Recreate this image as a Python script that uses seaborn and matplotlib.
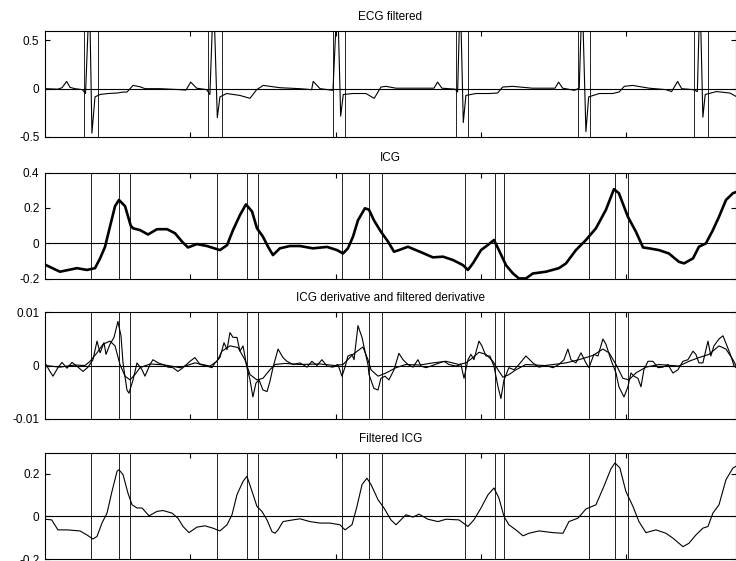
import matplotlib
matplotlib.use("Agg")
import matplotlib.pyplot as plt
import seaborn as sns

# ---------------------------------------------------------------- data
# time axis in seconds
t_max = 4.756
x_ticks = [1, 2, 3, 4]

# filtered ECG
ecg_t = [0.000, 0.089, 0.117, 0.149, 0.172, 0.206, 0.257, 0.279, 0.306, 0.323,
         0.344, 0.379, 0.434, 0.496, 0.537, 0.564, 0.606, 0.654, 0.688, 0.791,
         0.929, 0.970, 1.003, 1.044, 1.113, 1.135, 1.160, 1.186, 1.204, 1.250,
         1.342, 1.411, 1.457, 1.502, 1.617, 1.755, 1.835, 1.846, 1.893, 1.982,
         2.013, 2.035, 2.053, 2.120, 2.209, 2.266, 2.312, 2.347, 2.416, 2.622,
         2.677, 2.702, 2.732, 2.823, 2.840, 2.858, 2.879, 2.897, 2.966, 3.056,
         3.115, 3.150, 3.219, 3.356, 3.510, 3.535, 3.563, 3.643, 3.677, 3.697,
         3.723, 3.742, 3.815, 3.907, 3.952, 3.987, 4.044, 4.159, 4.274, 4.313,
         4.354, 4.382, 4.462, 4.490, 4.508, 4.528, 4.544, 4.622, 4.714, 4.756]
ecg_v = [0.000, -0.005, 0.010, 0.075, 0.014, 0.000, -0.010, -0.050, 1.000, -0.460,
         -0.085, -0.060, -0.050, -0.045, -0.035, -0.035, 0.034, 0.020, 0.000, 0.000,
         -0.010, -0.015, 0.068, 0.005, -0.010, -0.060, 1.000, -0.300, -0.085, -0.050,
         -0.070, -0.100, -0.010, 0.034, 0.010, 0.000, -0.010, 0.075, 0.000, -0.017,
         1.000, -0.284, -0.060, -0.050, -0.050, -0.100, 0.017, 0.024, 0.005, 0.005,
         0.005, 0.068, 0.005, -0.005, -0.034, 1.000, -0.350, -0.070, -0.050, -0.050,
         -0.045, 0.017, 0.024, 0.005, 0.005, 0.068, 0.005, -0.017, 0.005, 1.000,
         -0.445, -0.085, -0.050, -0.050, -0.034, 0.024, 0.034, 0.005, -0.010, -0.030,
         0.075, 0.000, -0.010, -0.030, 1.000, -0.295, -0.060, -0.030, -0.045, -0.080]
# QRS onset / offset markers
qrs_on = [0.265, 1.124, 1.984, 2.826, 3.668, 4.470]
qrs_off = [0.363, 1.215, 2.068, 2.913, 3.753, 4.565]

# raw ICG
icg_t = [0.000, 0.103, 0.220, 0.289, 0.344, 0.379, 0.413, 0.447, 0.482, 0.509,
         0.551, 0.590, 0.606, 0.654, 0.709, 0.771, 0.840, 0.895, 0.943, 0.984,
         1.046, 1.115, 1.204, 1.253, 1.294, 1.342, 1.383, 1.425, 1.459, 1.500,
         1.535, 1.569, 1.617, 1.686, 1.755, 1.844, 1.941, 2.010, 2.051, 2.085,
         2.120, 2.154, 2.202, 2.230, 2.264, 2.312, 2.361, 2.402, 2.436, 2.498,
         2.553, 2.608, 2.670, 2.739, 2.808, 2.877, 2.911, 2.945, 3.001, 3.056,
         3.090, 3.124, 3.173, 3.221, 3.262, 3.310, 3.358, 3.448, 3.537, 3.586,
         3.654, 3.723, 3.792, 3.861, 3.916, 3.950, 4.012, 4.067, 4.116, 4.157,
         4.226, 4.294, 4.363, 4.398, 4.460, 4.501, 4.549, 4.597, 4.639, 4.687,
         4.735, 4.756]
icg_v = [-0.120, -0.160, -0.140, -0.150, -0.140, -0.085, -0.020, 0.094, 0.210, 0.245,
         0.210, 0.100, 0.085, 0.075, 0.050, 0.080, 0.080, 0.057, 0.010, -0.023,
         -0.004, -0.015, -0.038, -0.010, 0.075, 0.160, 0.220, 0.180, 0.085, 0.038,
         -0.019, -0.066, -0.028, -0.015, -0.015, -0.028, -0.020, -0.038, -0.057, -0.028,
         0.038, 0.130, 0.198, 0.190, 0.130, 0.066, 0.010, -0.047, -0.038, -0.019,
         -0.038, -0.057, -0.079, -0.075, -0.094, -0.123, -0.150, -0.113, -0.038, -0.004,
         0.019, -0.038, -0.123, -0.170, -0.198, -0.198, -0.170, -0.160, -0.140, -0.113,
         -0.038, 0.019, 0.085, 0.190, 0.306, 0.283, 0.150, 0.066, -0.023, -0.028,
         -0.038, -0.057, -0.104, -0.113, -0.085, -0.019, 0.000, 0.075, 0.150, 0.245,
         0.283, 0.290]

# ICG derivative (raw)
dicg_t = [0.007, 0.034, 0.055, 0.089, 0.117, 0.151, 0.186, 0.227, 0.262, 0.296,
          0.330, 0.358, 0.379, 0.406, 0.420, 0.447, 0.475, 0.502, 0.523, 0.537,
          0.564, 0.578, 0.606, 0.633, 0.668, 0.688, 0.723, 0.743, 0.778, 0.812,
          0.846, 0.881, 0.915, 0.950, 0.998, 1.032, 1.067, 1.115, 1.149, 1.170,
          1.204, 1.232, 1.253, 1.273, 1.294, 1.321, 1.342, 1.363, 1.390, 1.411,
          1.431, 1.452, 1.473, 1.500, 1.528, 1.548, 1.569, 1.604, 1.638, 1.665,
          1.707, 1.755, 1.803, 1.837, 1.872, 1.906, 1.941, 1.982, 2.016, 2.044,
          2.065, 2.085, 2.113, 2.127, 2.154, 2.182, 2.202, 2.223, 2.230, 2.264,
          2.292, 2.312, 2.340, 2.367, 2.402, 2.436, 2.464, 2.498, 2.533, 2.567,
          2.588, 2.622, 2.656, 2.705, 2.746, 2.780, 2.828, 2.863, 2.884, 2.911,
          2.932, 2.952, 2.987, 3.007, 3.035, 3.062, 3.090, 3.118, 3.138, 3.159,
          3.193, 3.228, 3.262, 3.310, 3.358, 3.400, 3.448, 3.496, 3.537, 3.572,
          3.599, 3.620, 3.654, 3.689, 3.723, 3.744, 3.778, 3.806, 3.840, 3.861,
          3.895, 3.930, 3.950, 3.985, 4.012, 4.033, 4.054, 4.081, 4.102, 4.122,
          4.150, 4.184, 4.219, 4.253, 4.287, 4.322, 4.356, 4.391, 4.425, 4.460,
          4.480, 4.501, 4.528, 4.563, 4.583, 4.604, 4.639, 4.666, 4.694, 4.721,
          4.742, 4.756]
dicg_v = [0.0002, -0.0011, -0.0020, -0.0004, 0.0006, -0.0005, 0.0006, -0.0003, -0.0011, -0.0003,
          0.0011, 0.0046, 0.0024, 0.0043, 0.0021, 0.0040, 0.0053, 0.0083, 0.0056, 0.0005,
          -0.0046, -0.0052, -0.0027, 0.0005, -0.0008, -0.0020, 0.0002, 0.0011, 0.0005, 0.0002,
          -0.0003, -0.0004, -0.0011, -0.0004, 0.0008, 0.0015, 0.0002, -0.0001, -0.0004, 0.0005,
          0.0015, 0.0043, 0.0030, 0.0062, 0.0053, 0.0053, 0.0027, 0.0037, -0.0004, -0.0027,
          -0.0059, -0.0033, -0.0027, -0.0046, -0.0049, -0.0030, -0.0004, 0.0031, 0.0015, 0.0008,
          0.0002, 0.0005, -0.0003, 0.0008, 0.0000, 0.0011, -0.0001, -0.0003, 0.0002, -0.0020,
          -0.0003, 0.0018, 0.0021, 0.0011, 0.0075, 0.0053, 0.0027, 0.0002, -0.0017, -0.0043,
          -0.0046, -0.0024, -0.0020, -0.0027, -0.0008, 0.0023, 0.0011, 0.0002, -0.0003, 0.0011,
          -0.0001, -0.0004, -0.0001, 0.0004, 0.0008, 0.0002, -0.0001, 0.0002, -0.0024, 0.0011,
          0.0021, 0.0011, 0.0046, 0.0037, 0.0018, 0.0018, -0.0001, -0.0040, -0.0062, -0.0027,
          -0.0004, -0.0008, 0.0002, 0.0018, 0.0005, -0.0003, 0.0000, -0.0004, 0.0002, 0.0011,
          0.0031, 0.0011, 0.0005, 0.0024, 0.0005, -0.0004, 0.0021, 0.0018, 0.0050, 0.0040,
          0.0011, -0.0014, -0.0040, -0.0059, -0.0040, -0.0014, -0.0020, -0.0024, -0.0040, -0.0008,
          0.0008, 0.0008, -0.0004, -0.0003, 0.0002, -0.0014, -0.0008, 0.0008, 0.0011, 0.0027,
          0.0021, 0.0005, 0.0005, 0.0046, 0.0018, 0.0037, 0.0050, 0.0056, 0.0037, 0.0018,
          0.0000, -0.0004]

# ICG derivative (low-pass filtered)
dicg_f_t = [0.007, 0.103, 0.206, 0.275, 0.310, 0.358, 0.399, 0.447, 0.482, 0.516,
            0.551, 0.585, 0.619, 0.654, 0.723, 0.826, 0.929, 1.032, 1.135, 1.184,
            1.218, 1.273, 1.328, 1.376, 1.411, 1.459, 1.500, 1.548, 1.583, 1.652,
            1.755, 1.893, 1.996, 2.051, 2.120, 2.188, 2.223, 2.244, 2.292, 2.347,
            2.416, 2.484, 2.581, 2.670, 2.760, 2.849, 2.897, 2.945, 2.987, 3.035,
            3.083, 3.118, 3.152, 3.193, 3.241, 3.310, 3.441, 3.586, 3.675, 3.771,
            3.840, 3.882, 3.930, 3.978, 4.019, 4.067, 4.136, 4.226, 4.363, 4.432,
            4.501, 4.570, 4.639, 4.687, 4.735, 4.756]
dicg_f_v = [0.0000, -0.0003, 0.0001, 0.0000, 0.0008, 0.0024, 0.0040, 0.0046, 0.0037, 0.0002,
            -0.0020, -0.0027, -0.0017, -0.0004, 0.0003, 0.0001, -0.0004, 0.0005, -0.0001, 0.0008,
            0.0027, 0.0037, 0.0034, 0.0011, -0.0017, -0.0027, -0.0024, -0.0008, 0.0002, 0.0004,
            0.0002, 0.0003, 0.0000, 0.0002, 0.0021, 0.0035, 0.0011, -0.0008, -0.0020, -0.0014,
            -0.0004, 0.0002, 0.0001, 0.0005, 0.0008, 0.0002, 0.0005, 0.0015, 0.0025, 0.0021,
            0.0008, -0.0008, -0.0022, -0.0017, -0.0008, 0.0002, 0.0000, 0.0005, 0.0011, 0.0019,
            0.0031, 0.0024, 0.0002, -0.0024, -0.0027, -0.0014, -0.0003, 0.0002, -0.0001, 0.0008,
            0.0015, 0.0021, 0.0037, 0.0031, 0.0011, 0.0000]

# filtered ICG
icg_f_t = [0.000, 0.046, 0.089, 0.151, 0.241, 0.289, 0.330, 0.358, 0.392, 0.427,
           0.461, 0.496, 0.509, 0.537, 0.571, 0.599, 0.633, 0.668, 0.716, 0.771,
           0.812, 0.874, 0.915, 0.950, 0.991, 1.046, 1.101, 1.156, 1.204, 1.253,
           1.287, 1.321, 1.363, 1.390, 1.425, 1.459, 1.493, 1.528, 1.562, 1.583,
           1.604, 1.638, 1.707, 1.755, 1.824, 1.893, 1.961, 2.030, 2.065, 2.113,
           2.147, 2.182, 2.216, 2.244, 2.292, 2.333, 2.381, 2.416, 2.484, 2.533,
           2.574, 2.636, 2.705, 2.760, 2.849, 2.911, 2.952, 3.001, 3.049, 3.090,
           3.124, 3.159, 3.193, 3.241, 3.290, 3.331, 3.400, 3.496, 3.565, 3.606,
           3.668, 3.723, 3.792, 3.847, 3.895, 3.923, 3.957, 3.998, 4.047, 4.088,
           4.136, 4.205, 4.274, 4.322, 4.391, 4.432, 4.480, 4.528, 4.563, 4.597,
           4.639, 4.687, 4.735, 4.756]
icg_f_v = [-0.013, -0.016, -0.063, -0.063, -0.068, -0.087, -0.106, -0.094, -0.031, 0.016,
           0.118, 0.213, 0.220, 0.197, 0.110, 0.055, 0.040, 0.040, 0.003, 0.024,
           0.028, 0.016, -0.008, -0.047, -0.076, -0.050, -0.044, -0.055, -0.068, -0.039,
           0.008, 0.102, 0.165, 0.189, 0.118, 0.047, 0.024, -0.016, -0.071, -0.079,
           -0.063, -0.024, -0.016, -0.011, -0.024, -0.031, -0.031, -0.039, -0.063, -0.039,
           0.047, 0.150, 0.180, 0.150, 0.079, 0.040, -0.016, -0.039, 0.008, -0.003,
           0.011, -0.013, -0.024, -0.013, -0.016, -0.047, -0.016, 0.040, 0.102, 0.134,
           0.087, 0.000, -0.039, -0.063, -0.091, -0.079, -0.068, -0.076, -0.079, -0.024,
           -0.008, 0.035, 0.055, 0.142, 0.224, 0.252, 0.228, 0.118, 0.047, -0.024,
           -0.076, -0.063, -0.079, -0.102, -0.142, -0.126, -0.087, -0.055, -0.047, 0.016,
           0.055, 0.173, 0.228, 0.236]

# characteristic ICG points per beat
b_points = [0.317, 1.182, 2.044, 2.893, 3.742]
c_points = [0.509, 1.390, 2.230, 3.095, 3.925]
x_points = [0.587, 1.468, 2.317, 3.157, 4.014]

# panel titles and y-axes
titles = ["ECG filtered", "ICG", "ICG derivative and filtered derivative", "Filtered ICG"]
y_limits = [(-0.5, 0.6), (-0.2, 0.4), (-0.01, 0.01), (-0.2, 0.3)]
y_ticks = [[-0.5, 0, 0.5], [-0.2, 0, 0.2, 0.4], [-0.01, 0, 0.01], [-0.2, 0, 0.2]]
y_ticklabels = [["-0.5", "0", "0.5"], ["-0.2", "0", "0.2", "0.4"],
                ["-0.01", "0", "0.01"], ["-0.2", "0", "0.2"]]

# ---------------------------------------------------------------- style
sns.set_theme(style="white")
plt.rcParams["font.family"] = ["Liberation Sans", "DejaVu Sans"]
plt.rcParams["axes.unicode_minus"] = False

fig = plt.figure(figsize=(7.36, 5.61), dpi=100)
left, width, height = 45 / 736, 691 / 736, 106.3 / 561
bottoms = [1 - 137 / 561, 1 - 278.8 / 561, 1 - 418.7 / 561, 1 - 559 / 561]
axes = [fig.add_axes([left, b, width, height]) for b in bottoms]

ink = "black"


def draw_markers(ax, times):
    for t in times:
        ax.axvline(t, color=ink, lw=0.6, zorder=1)


# ECG
sns.lineplot(x=ecg_t, y=ecg_v, ax=axes[0], color=ink, lw=0.8, sort=False,
             estimator=None)
draw_markers(axes[0], qrs_on + qrs_off)

# ICG
sns.lineplot(x=icg_t, y=icg_v, ax=axes[1], color=ink, lw=1.9, sort=False,
             estimator=None)
draw_markers(axes[1], b_points + c_points + x_points)

# derivative and filtered derivative
sns.lineplot(x=dicg_t, y=dicg_v, ax=axes[2], color=ink, lw=0.8, sort=False,
             estimator=None)
sns.lineplot(x=dicg_f_t, y=dicg_f_v, ax=axes[2], color=ink, lw=0.8, sort=False,
             estimator=None)
draw_markers(axes[2], b_points + c_points + x_points)

# filtered ICG
sns.lineplot(x=icg_f_t, y=icg_f_v, ax=axes[3], color=ink, lw=0.8, sort=False,
             estimator=None)
draw_markers(axes[3], b_points + c_points + x_points)

for ax, title, ylim, yt, ytl in zip(axes, titles, y_limits, y_ticks, y_ticklabels):
    ax.axhline(0, color=ink, lw=0.8, zorder=3)
    ax.set_xlim(0, t_max)
    ax.set_ylim(*ylim)
    ax.set_xticks(x_ticks)
    ax.set_xticklabels([])
    ax.set_yticks(yt)
    ax.set_yticklabels(ytl)
    ax.set_xlabel("")
    ax.set_ylabel("")
    ax.set_title(title, fontsize=8.5, pad=8, color=ink)
    ax.tick_params(direction="in", length=3.6, width=0.8, colors=ink,
                   top=True, right=True, bottom=True, left=True,
                   labelsize=8.5, pad=4)
    for sp in ax.spines.values():
        sp.set_color(ink)
        sp.set_linewidth(0.8)
    ax.set_facecolor("white")

fig.savefig("out.png", dpi=100, facecolor="white")
